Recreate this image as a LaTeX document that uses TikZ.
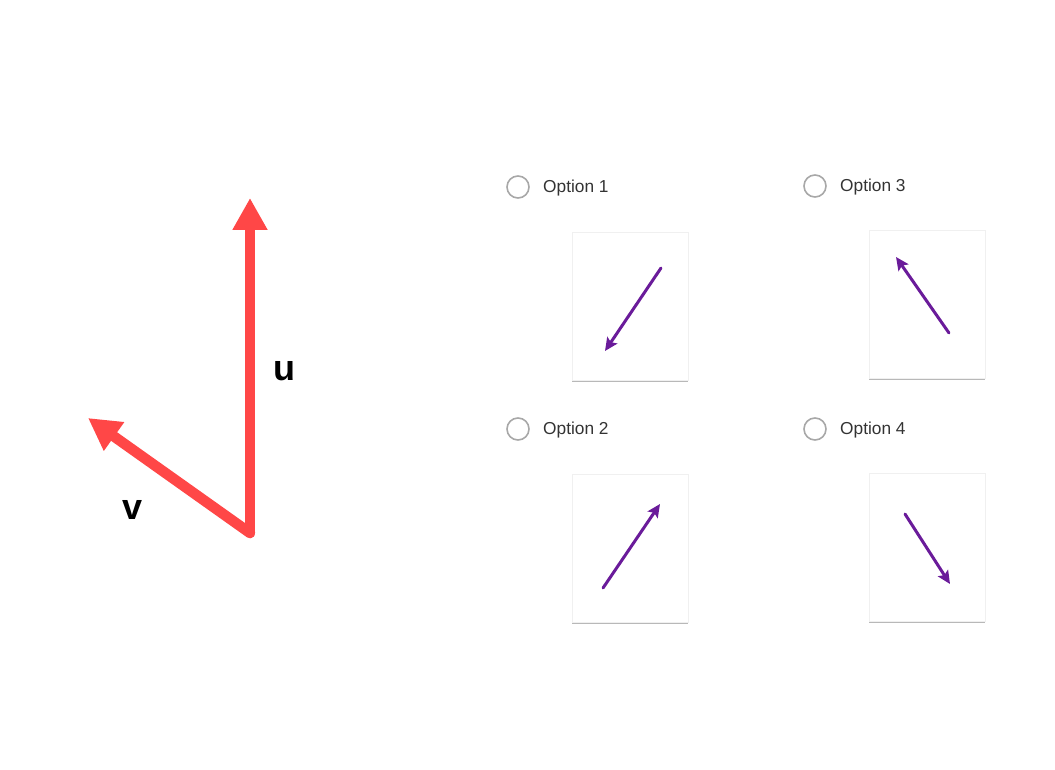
\documentclass[tikz,border=0pt]{standalone}
\usepackage{fontspec}
\setmainfont{Liberation Sans}
\usetikzlibrary{arrows.meta}
\definecolor{vred}{HTML}{FF4747}
\definecolor{vpurple}{HTML}{6A1B9A}
\definecolor{txtgray}{HTML}{333333}
\definecolor{ringgray}{HTML}{A8A8A8}
\tikzset{
  redvec/.style={draw=vred, line width=10.5pt, line cap=round, -{Triangle[length=32pt,width=33pt]}},
  purvec/.style={draw=vpurple, line width=3pt, line cap=round, -{Stealth[length=13pt,width=12pt,inset=2.5pt]}},
  veclabel/.style={font=\bfseries\fontsize{36}{40}\selectfont, text=black},
  radio/.style={circle, draw=ringgray, line width=1.6pt, minimum size=22pt, inner sep=0pt},
  optlabel/.style={anchor=west, font=\fontsize{17.3}{20}\selectfont, text=txtgray, inner sep=0pt},
  card/.style={fill=white, draw=black!6, line width=0.5pt, minimum width=116pt, minimum height=148pt, inner sep=0pt, anchor=north west},
  cardshadow/.style={fill=black!28, minimum width=116pt, minimum height=148pt, inner sep=0pt, anchor=north west}
}
\begin{document}
\begin{tikzpicture}[x=1pt,y=-1pt]
\useasboundingbox (0,0) rectangle (1055,770);
% left vectors
\coordinate (o) at (250,533);
\coordinate (utip) at (250,198);
\coordinate (vtip) at (88,418);
\draw[redvec] (o) -- (utip);
\draw[redvec] (o) -- (vtip);
\node[veclabel] (ulab) at (284,371) {u};
\node[veclabel] (vlab) at (133,510) {v};
% radios and labels
\node[radio] (r1) at (518,187) {};
\node[optlabel] (t1) at (543,188) {Option 1};
\node[radio] (r3) at (815,186) {};
\node[optlabel] (t3) at (840,187) {Option 3};
\node[radio] (r2) at (518,429) {};
\node[optlabel] (t2) at (543,430) {Option 2};
\node[radio] (r4) at (815,429) {};
\node[optlabel] (t4) at (840,430) {Option 4};
% cards
\node[cardshadow] (s1) at (572,234) {};
\node[card] (c1) at (572,232) {};
\node[cardshadow] (s3) at (869,232) {};
\node[card] (c3) at (869,230) {};
\node[cardshadow] (s2) at (572,476) {};
\node[card] (c2) at (572,474) {};
\node[cardshadow] (s4) at (869,475) {};
\node[card] (c4) at (869,473) {};
% purple arrows
\coordinate (a1s) at (661,268); \coordinate (a1e) at (605,351);
\coordinate (a3s) at (949,333); \coordinate (a3e) at (896,257);
\coordinate (a2s) at (603,588); \coordinate (a2e) at (660,504);
\coordinate (a4s) at (905,514); \coordinate (a4e) at (950,584);
\draw[purvec] (a1s) -- (a1e);
\draw[purvec] (a3s) -- (a3e);
\draw[purvec] (a2s) -- (a2e);
\draw[purvec] (a4s) -- (a4e);
\end{tikzpicture}
\end{document}
